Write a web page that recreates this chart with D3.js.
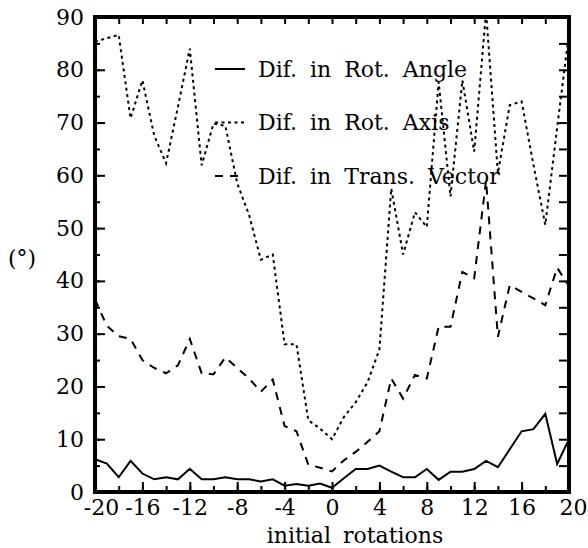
<!DOCTYPE html>
<html>
<head>
<meta charset="utf-8">
<script src="https://cdn.jsdelivr.net/npm/d3@7"></script>
<style>
  body { margin: 0; background: #fff; }
  text { font-family: "DejaVu Serif", serif; fill: #000; }
</style>
</head>
<body>
<div id="chart"></div>
<script>
// initial rotations (x categories)
const rotations = [-20, -19, -18, -17, -16, -15, -14, -13, -12, -11, -10,
    -9, -8, -7, -6, -5, -4, -3, -2, -1, 0, 1, 2, 3, 4, 5, 6, 7, 8, 9, 10,
    11, 12, 13, 14, 15, 16, 17, 18, 19, 20];

// Dif. in Rot. Angle (solid)
const rotAngle = [6.2, 5.4, 2.8, 5.9, 3.5, 2.4, 2.8, 2.4, 4.4, 2.4, 2.4,
    2.8, 2.4, 2.4, 2.0, 2.4, 1.2, 1.5, 1.2, 1.6, 0.8, 2.6, 4.35, 4.35, 5.0, 3.85,
    2.8, 2.8, 4.35, 2.3, 3.85, 3.85, 4.35, 5.9, 4.7, 8.1, 11.5, 11.9, 14.8, 5.3, 10.0];

// Dif. in Rot. Axis (dotted)
const rotAxis = [85.3, 86, 86.6, 70.8, 78, 67.5, 62.3, 73, 84, 61.9, 69.8,
    69.4, 58.5, 52.5, 44, 45, 28, 28, 13.6, 12, 10, 14.2, 17, 20.8, 27, 57.5,
    45, 53, 50.2, 77.7, 56, 78, 64.5, 91, 60.4, 73.3, 74, 62, 50.6, 69, 87];

// Dif. in Trans. Vector (dashed)
const transVector = [36.5, 31.5, 29.5, 29, 25, 23.5, 22.5, 24, 29, 22.5, 22.3,
    25.5, 23.5, 21.5, 19, 21.3, 12.5, 11.5, 5.2, 4.6, 3.9, 6, 7.6, 9.5, 11.5, 21.5,
    17.7, 22.2, 21.5, 31.3, 31.3, 41.7, 40.5, 59, 29.4, 39.2, 37.9, 36.7, 35.4, 42.5, 39];

const seriesNames = ["Dif. in Rot. Angle", "Dif. in Rot. Axis", "Dif. in Trans. Vector"];
const xTickLabels = [-20, -16, -12, -8, -4, 0, 4, 8, 12, 16, 20];
const yTickLabels = [0, 10, 20, 30, 40, 50, 60, 70, 80, 90];

const viewW = 588;
const viewH = 548;
const margin = { top: 17, right: 19, bottom: 56, left: 95 };
const width = viewW - margin.left - margin.right;
const height = viewH - margin.top - margin.bottom;

const svg = d3.select("#chart")
    .append("svg")
    .attr("width", viewW)
    .attr("height", viewH)
    .append("g")
    .attr("transform", `translate(${margin.left},${margin.top})`);

// Scales
const x = d3.scaleLinear().domain([-20, 20]).range([0, width]);
const y = d3.scaleLinear().domain([0, 90]).range([height, 0]);

svg.append("clipPath").attr("id", "plot-clip")
    .append("rect").attr("width", width).attr("height", height);

// Axes: inward ticks, major + minor
const minorX = d3.range(-20, 21, 2);
const minorY = d3.range(0, 91, 5);

const addAxis = (axis, transform) => {
    const g = svg.append("g").attr("transform", transform).call(axis);
    g.select(".domain").remove();
    g.selectAll(".tick line").attr("stroke", "#000").attr("stroke-width", 2);
    g.selectAll("text").style("font-size", "22px").attr("fill", "#000");
    return g;
};

addAxis(d3.axisBottom(x).tickValues(minorX).tickSize(-6).tickFormat(""), `translate(0,${height})`);
const xAxisG = addAxis(d3.axisBottom(x).tickValues(xTickLabels).tickSize(-10).tickPadding(7)
    .tickFormat(d => d), `translate(0,${height})`);
// edge labels sit a little inward/right as in the original
xAxisG.selectAll("text").attr("dx", d => d === -20 ? 6 : d === 20 ? 4 : 0);
addAxis(d3.axisTop(x).tickValues(minorX).tickSize(-7).tickFormat(""), "translate(0,0)");

addAxis(d3.axisLeft(y).tickValues(minorY).tickSize(-5).tickFormat(""), "translate(0,0)");
addAxis(d3.axisLeft(y).tickValues(yTickLabels).tickSize(-10).tickPadding(11)
    .tickFormat(d => d), "translate(0,0)");
addAxis(d3.axisRight(y).tickValues(minorY).tickSize(-10).tickFormat(""), `translate(${width},0)`);

// Frame
svg.append("rect")
    .attr("width", width)
    .attr("height", height)
    .attr("fill", "none")
    .attr("stroke", "#000")
    .attr("stroke-width", 4);

// Lines
const series = [
    { name: seriesNames[0], values: rotAngle, dash: null },
    { name: seriesNames[1], values: rotAxis, dash: "3,3.5" },
    { name: seriesNames[2], values: transVector, dash: "8,7" }
];

const line = d3.line()
    .x((d, i) => x(rotations[i]))
    .y(d => y(d));

svg.append("g").attr("clip-path", "url(#plot-clip)")
    .selectAll("path")
    .data(series)
    .join("path")
    .attr("d", s => line(s.values))
    .attr("fill", "none")
    .attr("stroke", "#000")
    .attr("stroke-width", 2)
    .attr("stroke-dasharray", s => s.dash);

// Legend
const legend = svg.append("g").attr("transform", "translate(120,52)");
const lg = legend.selectAll("g")
    .data(series)
    .join("g")
    .attr("transform", (d, i) => `translate(0,${i * 53.5})`);

lg.append("line")
    .attr("x1", 0).attr("x2", 30)
    .attr("stroke", "#000")
    .attr("stroke-width", 2)
    .attr("stroke-dasharray", d => d.dash);

lg.append("text")
    .attr("x", 43)
    .attr("dy", "0.36em")
    .style("font-size", "22px")
    .style("word-spacing", "6px")
    .text(d => d.name);

// Axis titles
svg.append("text")
    .attr("x", 260)
    .attr("y", 526)
    .attr("text-anchor", "middle")
    .style("font-size", "22px")
    .style("word-spacing", "5px")
    .text("initial rotations");

svg.append("text")
    .attr("x", -73)
    .attr("y", 241)
    .attr("dy", "0.36em")
    .attr("text-anchor", "middle")
    .style("font-size", "22px")
    .text("(°)");
</script>
</body>
</html>
